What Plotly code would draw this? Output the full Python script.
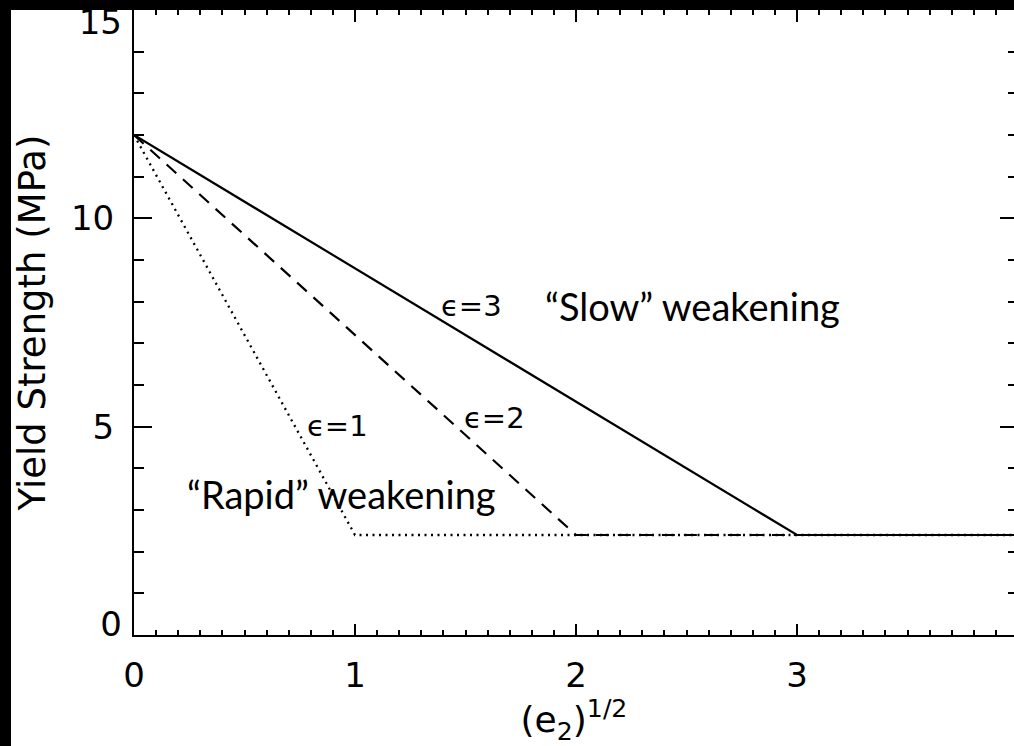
import plotly.graph_objects as go

# ---- data ----
y_peak = 12.0
y_floor = 2.4
x_eps1 = [0, 1, 4]
y_eps1 = [y_peak, y_floor, y_floor]
x_eps2 = [0, 2, 4]
y_eps2 = [y_peak, y_floor, y_floor]
x_eps3 = [0, 3, 4]
y_eps3 = [y_peak, y_floor, y_floor]

x_ticks = [0, 1, 2, 3, 4]
y_ticks = [0, 5, 10, 15]
y_tick_text = ["0", "5", "10", "15"]

# label positions (data coords)
lab_eps = ["ϵ=1", "ϵ=2", "ϵ=3"]
lab_eps_x = [0.923, 1.629, 1.529]
lab_eps_y = [5.02, 5.21, 7.90]

W, H = 1014, 746
ML, MR, MT, MB = 134, 0, 10, 111
XMAX = 4 * (W - ML - MR) / 884.0

fig = go.Figure()
fig.add_trace(go.Scatter(x=x_eps1, y=y_eps1, mode="lines",
                         line=dict(color="black", width=2.3, dash="2px,4.5px"),
                         showlegend=False, hoverinfo="skip"))
fig.add_trace(go.Scatter(x=x_eps2, y=y_eps2, mode="lines",
                         line=dict(color="black", width=2.2, dash="13px,9px"),
                         showlegend=False, hoverinfo="skip"))
fig.add_trace(go.Scatter(x=x_eps3, y=y_eps3, mode="lines",
                         line=dict(color="black", width=2.2),
                         showlegend=False, hoverinfo="skip"))
# invisible traces so the secondary axes are drawn
for xa, ya in [("x2", "y2"), ("x", "y3"), ("x", "y4")]:
    fig.add_trace(go.Scatter(x=[0], y=[0], xaxis=xa, yaxis=ya, mode="markers",
                             marker=dict(opacity=0), showlegend=False,
                             hoverinfo="skip"))

tickfont = dict(family="DejaVu Sans", size=34, color="black")
YSTAND = 11


def label_axis(val, text, shift):
    return dict(overlaying="y", side="left", anchor="x", range=[0, 15],
                tickvals=[val], ticktext=[text], ticks="", showline=False,
                showgrid=False, zeroline=False, tickfont=tickfont,
                ticklabelstandoff=YSTAND, ticklabelshift=shift,
                ticklabeloverflow="allow", automargin=False)


fig.update_layout(
    width=W, height=H,
    margin=dict(l=ML, r=MR, t=MT, b=MB, autoexpand=False),
    paper_bgcolor="white", plot_bgcolor="white",
    xaxis=dict(range=[0, XMAX], tickvals=x_ticks, ticks="inside", ticklen=11,
               tickwidth=2, tickcolor="black", showline=True, linecolor="black",
               linewidth=2, showgrid=False, zeroline=False, tickfont=tickfont,
               ticklabelstandoff=9, automargin=False,
               minor=dict(dtick=0.1, ticks="inside", ticklen=5, tickwidth=2,
                          tickcolor="black", showgrid=False),
               title=dict(text="(e<sub>2</sub>)<sup>1/2</sup>",
                          font=dict(family="DejaVu Sans", size=36, color="black"),
                          standoff=29)),
    yaxis=dict(range=[0, 15], tickvals=y_ticks,
               ticktext=["", y_tick_text[1], y_tick_text[2], ""],
               ticks="inside", ticklen=18, automargin=False,
               tickwidth=2, tickcolor="black", showline=True, linecolor="black",
               linewidth=2, showgrid=False, zeroline=False, tickfont=tickfont,
               ticklabelstandoff=YSTAND,
               minor=dict(dtick=1, ticks="inside", ticklen=10, tickwidth=2,
                          tickcolor="black", showgrid=False),
               title=dict(text="Yield Strength (MPa)",
                          font=dict(family="DejaVu Sans", size=37, color="black"),
                          standoff=14)),
    yaxis3=label_axis(y_ticks[0], y_tick_text[0], -11),
    yaxis4=label_axis(y_ticks[3], y_tick_text[3], 12),
    xaxis2=dict(overlaying="x", side="top", matches="x", range=[0, XMAX],
                tickvals=x_ticks, ticks="inside", ticklen=12, tickwidth=2,
                tickcolor="black", showticklabels=False, showline=True,
                linecolor="black", linewidth=2, showgrid=False, zeroline=False,
                automargin=False,
                minor=dict(dtick=0.1, ticks="inside", ticklen=5, tickwidth=2,
                           tickcolor="black", showgrid=False)),
    yaxis2=dict(overlaying="y", side="right", range=[0, 15], tickvals=y_ticks,
                ticks="inside", ticklen=14, tickwidth=2, tickcolor="black",
                showticklabels=False, showline=False, showgrid=False,
                zeroline=False, automargin=False,
                minor=dict(dtick=1, ticks="inside", ticklen=6, tickwidth=2,
                           tickcolor="black", showgrid=False)),
)

for t, x, y in zip(lab_eps, lab_eps_x, lab_eps_y):
    fig.add_annotation(x=x, y=y, text=t, showarrow=False,
                       font=dict(family="DejaVu Sans", size=29, color="black"))

fig.add_annotation(x=2.525, y=7.90, text="\u201cSlow\u201d weakening", showarrow=False,
                   font=dict(family="Lato", size=38, color="black"))
fig.add_annotation(x=0.937, y=3.38, text="\u201cRapid\u201d weakening", showarrow=False,
                   font=dict(family="Lato", size=38, color="black"))

# black frame bands (left and top)
px = lambda p: (p - ML) / (W - ML - MR)
py = lambda p: (H - MB - p) / (H - MT - MB)
fig.add_shape(type="rect", xref="paper", yref="paper", x0=px(0), x1=px(11),
              y0=py(H), y1=py(0), fillcolor="black", line=dict(width=0),
              layer="above")
fig.add_shape(type="rect", xref="paper", yref="paper", x0=px(0), x1=px(W),
              y0=py(10), y1=py(0), fillcolor="black", line=dict(width=0),
              layer="above")

fig.write_html(
    "out.html",
    config={"displayModeBar": False},
    post_script="document.documentElement.style.margin='0';"
                "document.body.style.margin='0';"
                "document.body.style.overflow='hidden';",
)
